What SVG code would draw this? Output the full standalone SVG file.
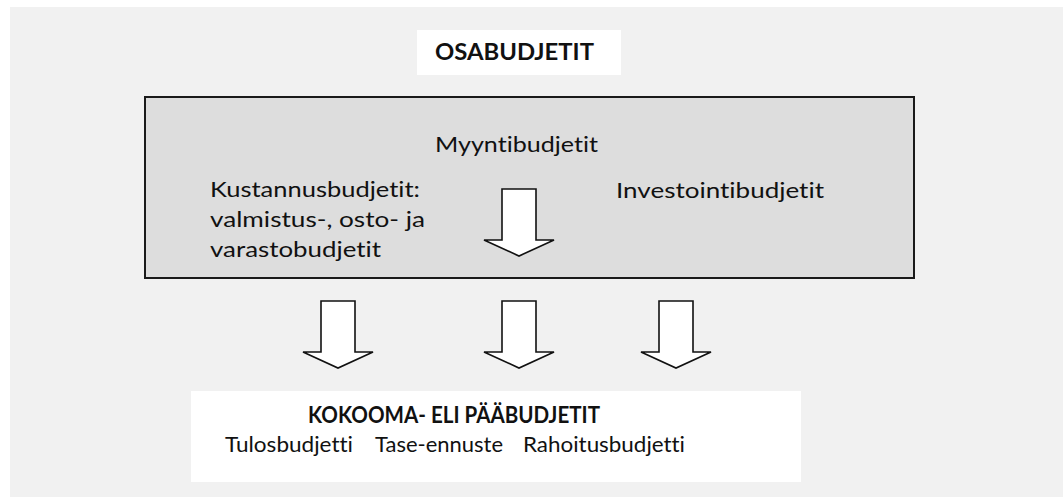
<svg xmlns="http://www.w3.org/2000/svg" xmlns:xlink="http://www.w3.org/1999/xlink" width="1063" height="497" viewBox="0 0 1063 497">
<style>
.t{font-family:Lato,"Open Sans","Liberation Sans",sans-serif;font-size:22px;fill:#111;font-variant-ligatures:none;font-feature-settings:"liga" 0,"clig" 0}
.b{font-weight:bold}
.arrow{fill:#fff;stroke:#111;stroke-width:1.6;stroke-linejoin:miter}
</style>
<defs>
<path id="blk" class="arrow" d="M-17,-67 H17 V-16 H35 L0,0 L-35,-16 H-17 Z"/>
</defs>
<rect x="10" y="7" width="1053" height="490" fill="#f1f1f1"/>
<g id="osabudjetit">
<rect x="417" y="30" width="204" height="45" fill="#fff"/>
<text class="t b" x="435" y="60" textLength="159" lengthAdjust="spacingAndGlyphs">OSABUDJETIT</text>
</g>
<g id="osabox">
<rect x="145" y="97" width="769" height="181" fill="#dddddd" stroke="#1a1a1a" stroke-width="2"/>
</g>
<g id="myynti">
<text class="t" x="435" y="152" textLength="163" lengthAdjust="spacingAndGlyphs">Myyntibudjetit</text>
</g>
<g id="kustannus">
<text class="t" x="210" y="197" textLength="210" lengthAdjust="spacingAndGlyphs">Kustannusbudjetit:</text>
<text class="t" x="210" y="227" textLength="215" lengthAdjust="spacingAndGlyphs">valmistus-, osto- ja</text>
<text class="t" x="210" y="257" textLength="171" lengthAdjust="spacingAndGlyphs">varastobudjetit</text>
</g>
<g id="investointi">
<text class="t" x="616" y="198" textLength="208" lengthAdjust="spacingAndGlyphs">Investointibudjetit</text>
</g>
<g id="kokooma">
<rect x="191" y="391" width="610" height="91" fill="#fff"/>
<text class="t b" x="308" y="423" textLength="292" lengthAdjust="spacingAndGlyphs">KOKOOMA- ELI PÄÄBUDJETIT</text>
<text class="t" x="225" y="452" textLength="128" lengthAdjust="spacingAndGlyphs">Tulosbudjetti</text>
<text class="t" x="375" y="452" textLength="128" lengthAdjust="spacingAndGlyphs">Tase-ennuste</text>
<text class="t" x="523" y="452" textLength="162" lengthAdjust="spacingAndGlyphs">Rahoitusbudjetti</text>
</g>
<g id="connectors">
<use xlink:href="#blk" x="519" y="256"/>
<use xlink:href="#blk" x="338" y="368"/>
<use xlink:href="#blk" x="519" y="368"/>
<use xlink:href="#blk" x="676" y="368"/>
</g>
</svg>
